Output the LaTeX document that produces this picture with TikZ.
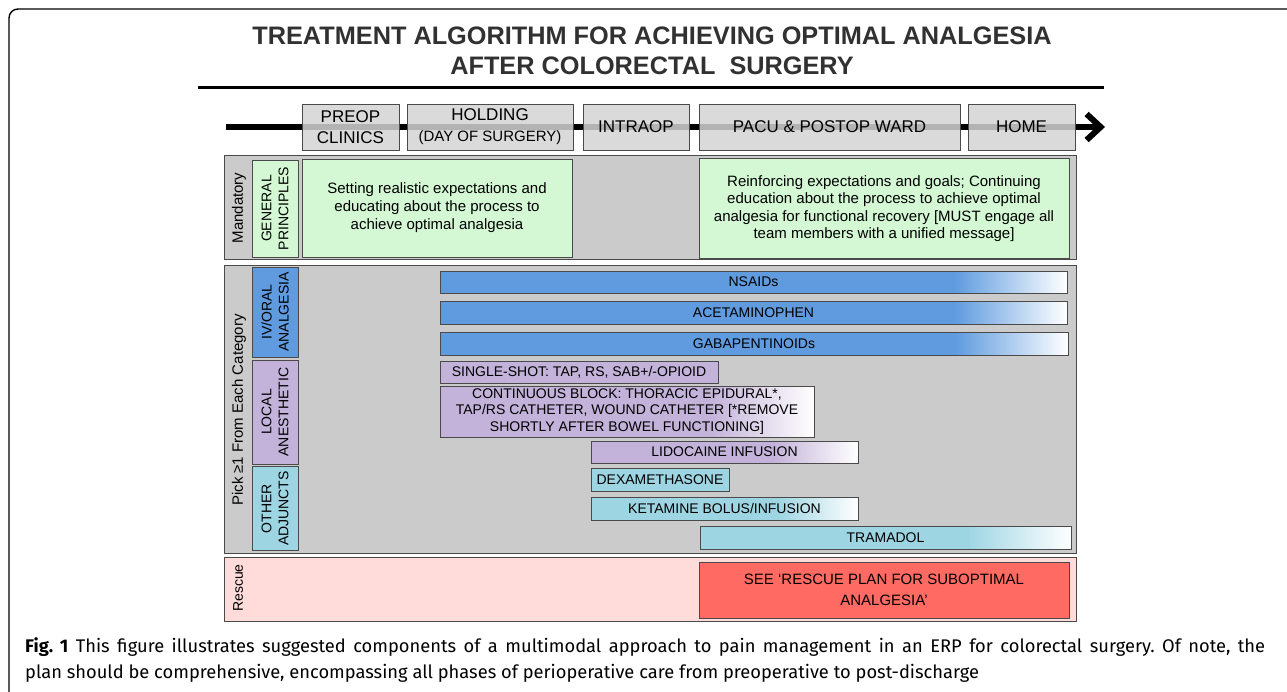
\documentclass[tikz,border=0pt]{standalone}
\usepackage{fontspec}
\setmainfont{Liberation Sans}
\newfontfamily\capfont{Fira Sans}
\usepackage{tikz}
\usetikzlibrary{arrows.meta}

\definecolor{panelgray}{HTML}{CBCBCB}
\definecolor{phasegray}{HTML}{D3D3D3}
\definecolor{edgegray}{HTML}{4A4A4A}
\definecolor{titlegray}{HTML}{313131}
\definecolor{mintgreen}{HTML}{D4F8D4}
\definecolor{drugblue}{HTML}{5F9BDE}
\definecolor{lilac}{HTML}{C3B2D9}
\definecolor{skycyan}{HTML}{9ED5E3}
\definecolor{rescuepink}{HTML}{FFDBDA}
\definecolor{rescuered}{HTML}{FF6A62}

\newcommand{\fadeto}[3]{\pgfdeclarehorizontalshading{#1}{100bp}{color(0bp)=(#2); color(#3bp)=(#2); color(75bp)=(white); color(100bp)=(white)}}
\fadeto{bluefade}{drugblue}{66}
\fadeto{blockfade}{lilac}{61}
\fadeto{lidofade}{lilac}{59}
\fadeto{ketafade}{skycyan}{60}
\fadeto{tramfade}{skycyan}{61}

\frenchspacing
\begin{document}
\begin{tikzpicture}[
  x=1pt, y=-1pt,
  phase/.style={draw=edgegray, line width=1pt, fill=phasegray, fill opacity=.85, text opacity=1,
    minimum height=46, inner sep=0, align=center, font=\fontsize{17}{21}\selectfont},
  panel/.style={draw=edgegray, line width=1pt, fill=panelgray},
  side/.style={rotate=90, inner sep=0, font=\fontsize{15}{18}\selectfont},
  tag/.style={draw=edgegray, line width=1pt, rotate=90, minimum height=46, inner sep=0,
    align=center, font=\fontsize{14}{17}\selectfont},
  note/.style={draw=edgegray, line width=1pt, fill=mintgreen, inner sep=0, align=center,
    font=\fontsize{15}{18}\selectfont},
  bar/.style={draw=edgegray, line width=1pt, inner sep=0, minimum height=22, align=center,
    font=\fontsize{14}{16.5}\selectfont},
  caption/.style={anchor=base west, inner sep=0, font=\capfont\fontsize{18.3}{22}\selectfont},
]
\useasboundingbox (0,0) rectangle (1287,691);

% frame
\draw[line width=1.4pt, rounded corners=9] (1300,9) -- (9,9) -- (9,700);

\node[font=\bfseries\fontsize{25.3}{30}\selectfont, text=titlegray, align=center] (title) at (652,51)
  {TREATMENT ALGORITHM FOR ACHIEVING OPTIMAL ANALGESIA\\AFTER COLORECTAL\ \ SURGERY};

\coordinate (ruleL) at (198,87);
\coordinate (ruleR) at (1104,87);
\draw[line width=3pt] (ruleL) -- (ruleR);

% timeline
\coordinate (tstart) at (226,127);
\coordinate (tend) at (1105,127);
\draw[line width=6pt, -{Straight Barb[length=14pt,width=26pt]}] (tstart) -- (tend);

\foreach \nm/\cx/\bw/\txt in {preop/350.5/97/{PREOP\\CLINICS}, intraop/636/106/INTRAOP,
    pacu/829.5/261/{PACU \& POSTOP WARD}, home/1021.5/107/HOME}
  \node[phase, minimum width=\bw] (\nm) at (\cx,127) {\txt};
\node[phase, minimum width=166] (holding) at (490,127)
  {HOLDING\\{\fontsize{15}{18}\selectfont(DAY OF SURGERY)}};

% panels
\draw[panel] (224,155) rectangle (1076,259);
\draw[panel] (224,265) rectangle (1076,553);
\draw[panel, fill=rescuepink] (224,557) rectangle (1076,621);

\node[side] (mandatory) at (239,208) {Mandatory};
\node[side] (pick) at (239,410) {Pick ≥1 From Each Category};
\node[side, font=\fontsize{14}{17}\selectfont] (rescue) at (238,588) {Rescue};

\node[tag, fill=mintgreen, minimum width=97] (general) at (275,208.5) {GENERAL\\PRINCIPLES};
\node[tag, fill=drugblue, minimum width=90] (ivoral) at (275,312) {IV/ORAL\\ANALGESIA};
\node[tag, fill=lilac, minimum width=104] (local) at (275,412) {LOCAL\\ANESTHETIC};
\node[tag, fill=skycyan, minimum width=84] (adjuncts) at (275,508.5) {OTHER\\ADJUNCTS};

\node[note, minimum width=270, minimum height=98] (setting) at (437,208)
  {Setting realistic expectations and\\educating about the process to\\achieve optimal analgesia};
\node[note, minimum width=370, minimum height=100, font=\fontsize{15}{17.5}\selectfont] (reinforce) at (884,208.5)
  {Reinforcing expectations and goals; Continuing\\education about the process to achieve optimal\\analgesia for functional recovery [MUST engage all\\team members with a unified message]};

% drugs
\node[bar, shade, shading=bluefade, minimum width=627] (nsaids) at (753.5,282) {NSAIDs};
\node[bar, shade, shading=bluefade, minimum width=627, minimum height=23] (acetaminophen) at (753.5,312.5) {ACETAMINOPHEN};
\node[bar, shade, shading=bluefade, minimum width=628, minimum height=23] (gabapentinoids) at (754,343.5) {GABAPENTINOIDs};
\node[bar, fill=lilac, minimum width=278] (singleshot) at (579,372) {SINGLE-SHOT: TAP, RS, SAB+/-OPIOID};
\node[bar, shade, shading=blockfade, minimum width=374, minimum height=51] (block) at (627,411.5)
  {CONTINUOUS BLOCK: THORACIC EPIDURAL*,\\TAP/RS CATHETER, WOUND CATHETER [*REMOVE\\SHORTLY AFTER BOWEL FUNCTIONING]};
\node[bar, shade, shading=lidofade, minimum width=267] (lidocaine) at (724.5,452) {LIDOCAINE INFUSION};
\node[bar, fill=skycyan, minimum width=138, minimum height=23] (dexamethasone) at (660,479.5) {DEXAMETHASONE};
\node[bar, shade, shading=ketafade, minimum width=267, minimum height=23] (ketamine) at (724.5,508.5) {KETAMINE BOLUS/INFUSION};
\node[bar, shade, shading=tramfade, minimum width=371, minimum height=23] (tramadol) at (885.5,537.5) {TRAMADOL};

\node[bar, fill=rescuered, minimum width=370, minimum height=56, font=\fontsize{15}{21}\selectfont] (rescueplan) at (884,590)
  {SEE ‘RESCUE PLAN FOR SUBOPTIMAL\\ANALGESIA’};

% caption
\node[caption] (caption1) at (25,652)
  {\makebox[1240pt][s]{\textbf{Fig. 1} This figure illustrates suggested components of a multimodal approach to pain management in an ERP for colorectal surgery. Of note, the}};
\node[caption] (caption2) at (25,678)
  {plan should be comprehensive, encompassing all phases of perioperative care from preoperative to post-discharge};
\end{tikzpicture}
\end{document}
